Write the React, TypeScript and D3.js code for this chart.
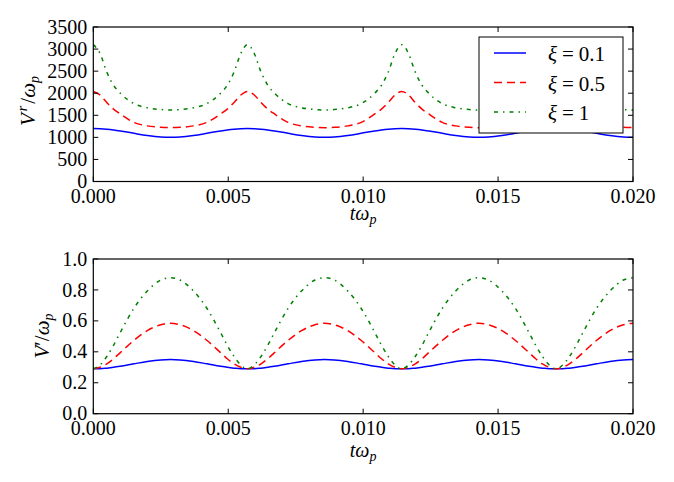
import React from "react";
import * as d3 from "d3";

// time axis (t * omega_p), denser near the cusps
const timeValues = [
  0, 0.00025, 0.0005, 0.00075, 0.001, 0.0015, 0.002, 0.0025, 0.00286, 0.003215, 0.003715, 0.004215, 0.004715, 0.004965, 0.005215, 0.005465, 0.005715,
  0.005965, 0.006215, 0.006465, 0.006715, 0.007215, 0.007715, 0.008215, 0.008573, 0.00893, 0.00943, 0.00993, 0.01043, 0.01068, 0.01093, 0.01118, 0.01143,
  0.01168, 0.01193, 0.01218, 0.01243, 0.01293, 0.01343, 0.01393, 0.014288, 0.014645, 0.015145, 0.015645, 0.016145, 0.016395, 0.016645, 0.016895, 0.017145,
  0.017395, 0.017645, 0.017895, 0.018145, 0.018645, 0.019145, 0.019645, 0.02,
];

// V^r / omega_p
const vrXi01 = [
  1200, 1196, 1185, 1168, 1146, 1092, 1041, 1007, 1000, 1007, 1041, 1092, 1146, 1168, 1185, 1196, 1200,
  1196, 1185, 1168, 1146, 1092, 1041, 1007, 1000, 1007, 1041, 1092, 1146, 1168, 1185, 1196, 1200,
  1196, 1185, 1168, 1146, 1092, 1041, 1007, 1000, 1007, 1041, 1092, 1146, 1168, 1185, 1196, 1200,
  1196, 1185, 1168, 1146, 1092, 1041, 1007, 1000,
];
const vrXi05 = [
  2040, 1960, 1790, 1640, 1530, 1340, 1260, 1228, 1220, 1228, 1260, 1340, 1530, 1640, 1790, 1960, 2040,
  1960, 1790, 1640, 1530, 1340, 1260, 1228, 1220, 1228, 1260, 1340, 1530, 1640, 1790, 1960, 2040,
  1960, 1790, 1640, 1530, 1340, 1260, 1228, 1220, 1228, 1260, 1340, 1530, 1640, 1790, 1960, 2040,
  1960, 1790, 1640, 1530, 1340, 1260, 1228, 1220,
];
const vrXi1 = [
  3100, 2900, 2480, 2180, 2000, 1765, 1670, 1630, 1620, 1630, 1670, 1765, 2000, 2180, 2480, 2900, 3100,
  2900, 2480, 2180, 2000, 1765, 1670, 1630, 1620, 1630, 1670, 1765, 2000, 2180, 2480, 2900, 3100,
  2900, 2480, 2180, 2000, 1765, 1670, 1630, 1620, 1630, 1670, 1765, 2000, 2180, 2480, 2900, 3100,
  2900, 2480, 2180, 2000, 1765, 1670, 1630, 1620,
];

// V' / omega_p
const vpXi01 = [
  0.29, 0.2904, 0.2944, 0.2996, 0.3064, 0.3223, 0.3376, 0.3477, 0.35, 0.3477, 0.3376, 0.3223, 0.3064, 0.2996, 0.2944, 0.2904, 0.29,
  0.2904, 0.2944, 0.2996, 0.3064, 0.3223, 0.3376, 0.3477, 0.35, 0.3477, 0.3376, 0.3223, 0.3064, 0.2996, 0.2944, 0.2904, 0.29,
  0.2904, 0.2944, 0.2996, 0.3064, 0.3223, 0.3376, 0.3477, 0.35, 0.3477, 0.3376, 0.3223, 0.3064, 0.2996, 0.2944, 0.2904, 0.29,
  0.2904, 0.2944, 0.2996, 0.3064, 0.3223, 0.3376, 0.3477, 0.35,
];
const vpXi05 = [
  0.29, 0.3, 0.322, 0.355, 0.395, 0.473, 0.537, 0.575, 0.585, 0.575, 0.537, 0.473, 0.395, 0.355, 0.322, 0.3, 0.29,
  0.3, 0.322, 0.355, 0.395, 0.473, 0.537, 0.575, 0.585, 0.575, 0.537, 0.473, 0.395, 0.355, 0.322, 0.3, 0.29,
  0.3, 0.322, 0.355, 0.395, 0.473, 0.537, 0.575, 0.585, 0.575, 0.537, 0.473, 0.395, 0.355, 0.322, 0.3, 0.29,
  0.3, 0.322, 0.355, 0.395, 0.473, 0.537, 0.575, 0.585,
];
const vpXi1 = [
  0.29, 0.315, 0.37, 0.442, 0.525, 0.68, 0.793, 0.864, 0.879, 0.864, 0.793, 0.68, 0.525, 0.442, 0.37, 0.315, 0.29,
  0.315, 0.37, 0.442, 0.525, 0.68, 0.793, 0.864, 0.879, 0.864, 0.793, 0.68, 0.525, 0.442, 0.37, 0.315, 0.29,
  0.315, 0.37, 0.442, 0.525, 0.68, 0.793, 0.864, 0.879, 0.864, 0.793, 0.68, 0.525, 0.442, 0.37, 0.315, 0.29,
  0.315, 0.37, 0.442, 0.525, 0.68, 0.793, 0.864, 0.879,
];

const xiLabels = ["0.1", "0.5", "1"];
const xTicks = [0, 0.005, 0.01, 0.015, 0.02];
const vrTicks = [0, 500, 1000, 1500, 2000, 2500, 3000, 3500];
const vpTicks = [0, 0.2, 0.4, 0.6, 0.8, 1.0];

const colors = ["#0000ff", "#ff0000", "#008000"];
const dashes = ["", "8,5", "4,5,1.5,5"];

const LEFT = 93.3;
const RIGHT = 633;

const x = d3.scaleLinear().domain([0, 0.02]).range([LEFT, RIGHT]);

type PanelProps = {
  top: number;
  bottom: number;
  yMax: number;
  yTicks: number[];
  yFmt: (v: number) => string;
  series: number[][];
  xLabelY: number;
  legend?: boolean;
  yLabel: React.ReactNode;
};

const Panel = ({ top, bottom, yMax, yTicks, yFmt, series, xLabelY, legend, yLabel }: PanelProps) => {
  const y = d3.scaleLinear().domain([0, yMax]).range([bottom, top]);
  const line = d3
    .line<number>()
    .x((_, i) => x(timeValues[i]))
    .y((d) => y(d))
    .curve(d3.curveMonotoneX);
  const fmtX = d3.format(".3f");
  const tl = 5;

  return (
    <g>
      <defs>
        <clipPath id={`clip${top}`}>
          <rect x={LEFT} y={top} width={RIGHT - LEFT} height={bottom - top} />
        </clipPath>
      </defs>
      <g clipPath={`url(#clip${top})`}>
        {series.map((s, i) => (
          <path
            key={i}
            d={line(s) || ""}
            fill="none"
            stroke={colors[i]}
            strokeWidth={1.5}
            strokeDasharray={dashes[i] || undefined}
          />
        ))}
      </g>
      {/* ticks, inward on all four sides */}
      {xTicks.map((t) => (
        <g key={t}>
          <line x1={x(t)} x2={x(t)} y1={bottom} y2={bottom - tl} stroke="#000" />
          <line x1={x(t)} x2={x(t)} y1={top} y2={top + tl} stroke="#000" />
          <text x={x(t)} y={bottom + 21.5} textAnchor="middle" fontSize={20}>
            {fmtX(t)}
          </text>
        </g>
      ))}
      {yTicks.map((t) => (
        <g key={t}>
          <line x1={LEFT} x2={LEFT + tl} y1={y(t)} y2={y(t)} stroke="#000" />
          <line x1={RIGHT} x2={RIGHT - tl} y1={y(t)} y2={y(t)} stroke="#000" />
          <text x={LEFT - 6} y={y(t)} dy="0.33em" textAnchor="end" fontSize={20}>
            {yFmt(t)}
          </text>
        </g>
      ))}
      <rect x={LEFT} y={top} width={RIGHT - LEFT} height={bottom - top} fill="none" stroke="#000" strokeWidth={1.2} />
      <text x={(LEFT + RIGHT) / 2} y={xLabelY} textAnchor="middle" fontSize={20}>
        <tspan fontStyle="italic">tω</tspan>
        <tspan fontStyle="italic" fontSize={14} dy={4}>p</tspan>
      </text>
      {yLabel}
      {legend && (
        <g>
          <rect x={479} y={37} width={144} height={96} fill="#fff" stroke="#000" strokeWidth={1} />
          {xiLabels.map((lab, i) => {
            const ry = 53 + i * 29.5;
            return (
              <g key={lab}>
                <line x1={494} x2={526} y1={ry} y2={ry} stroke={colors[i]} strokeWidth={1.5} strokeDasharray={dashes[i] || undefined} />
                <text x={548} y={ry + 8} fontSize={21}>
                  <tspan fontStyle="italic">ξ</tspan>
                  <tspan dx={5}>=</tspan>
                  <tspan dx={5}>{lab}</tspan>
                </text>
              </g>
            );
          })}
        </g>
      )}
    </g>
  );
};

export default function App() {
  const fmtVp = d3.format(".1f");
  return (
    <svg
      width={674}
      height={482}
      style={{
        position: "absolute",
        left: 0,
        top: 0,
        background: "#fff",
        fontFamily: '"Liberation Serif", "DejaVu Serif", serif',
      }}
    >
      <Panel
        top={27}
        bottom={181.5}
        yMax={3500}
        yTicks={vrTicks}
        yFmt={(v) => String(v)}
        series={[vrXi01, vrXi05, vrXi1]}
        xLabelY={220}
        legend
        yLabel={
          <text transform="translate(35,101) rotate(-90)" textAnchor="middle" fontSize={21}>
            <tspan fontStyle="italic">V</tspan>
            <tspan fontStyle="italic" fontSize={14} dx={2} dy={-8}>r</tspan>
            <tspan dx={2} dy={8}>/</tspan>
            <tspan fontStyle="italic">ω</tspan>
            <tspan fontStyle="italic" fontSize={14} dy={4}>p</tspan>
          </text>
        }
      />
      <Panel
        top={259}
        bottom={413.7}
        yMax={1}
        yTicks={vpTicks}
        yFmt={fmtVp}
        series={[vpXi01, vpXi05, vpXi1]}
        xLabelY={457}
        yLabel={
          <text transform="translate(49,336) rotate(-90)" textAnchor="middle" fontSize={21}>
            <tspan fontStyle="italic">V</tspan>
            <tspan>′</tspan>
            <tspan>/</tspan>
            <tspan fontStyle="italic">ω</tspan>
            <tspan fontStyle="italic" fontSize={14} dy={4}>p</tspan>
          </text>
        }
      />
    </svg>
  );
}
